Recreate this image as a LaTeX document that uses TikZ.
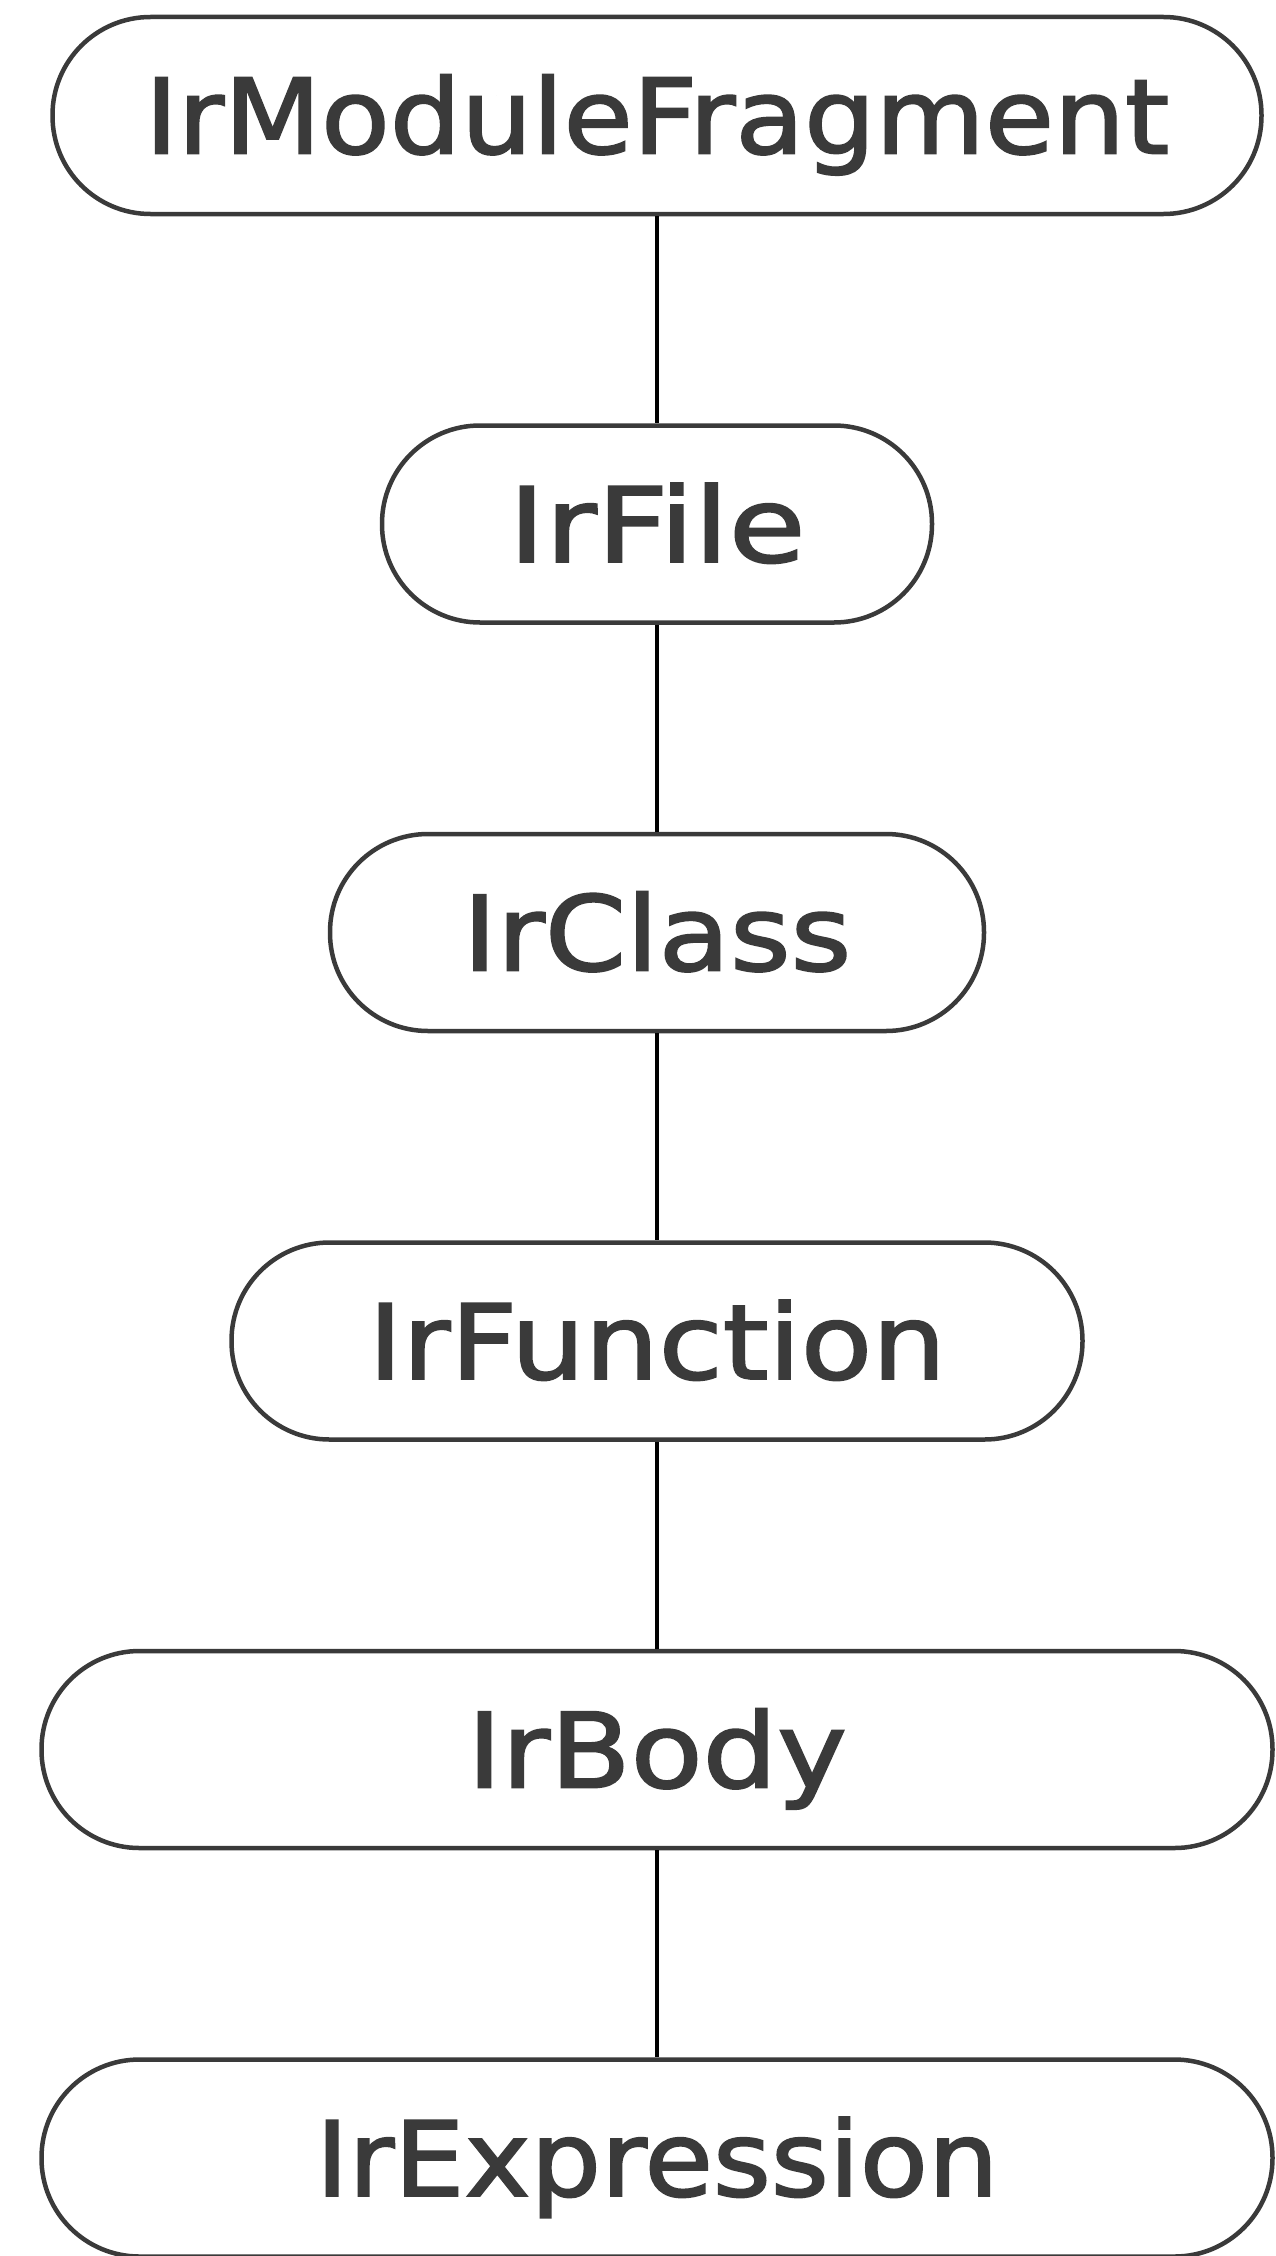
\documentclass[tikz,border=0pt]{standalone}
\usepackage{fontspec}
\setmainfont{DejaVu Sans}[FakeBold=1.8]
\definecolor{ink}{HTML}{3A3A3A}
% label stretched horizontally by #1
\newcommand{\irlabel}[2]{\scalebox{#1}[1]{#2}}
\begin{document}
\begin{tikzpicture}[x=1pt,y=-1pt,
  irnode/.style={draw=ink, line width=4.5pt, rounded corners=98pt, fill=white,
    minimum height=197pt, inner sep=0pt, text=ink,
    font=\fontsize{104}{110}\selectfont, text height=76pt, text depth=0pt},
  link/.style={draw=black, line width=3.5pt}]
\useasboundingbox (0,0) rectangle (1276,2256);
\clip (0,0) rectangle (1276,2256);
% IR tree, one level per row
\node[irnode, minimum width=1209pt] (frag) at (657,115.5) {\irlabel{1.08}{IrModuleFragment}};
\node[irnode, minimum width=550pt]  (file) at (657,524)   {\irlabel{1.20}{IrFile}};
\node[irnode, minimum width=654pt]  (cls)  at (657,932.5) {\irlabel{1.12}{IrClass}};
\node[irnode, minimum width=851pt]  (fun)  at (657,1341)  {\irlabel{1.12}{IrFunction}};
\node[irnode, minimum width=1231pt] (body) at (657,1749.5){\irlabel{1.13}{IrBody}};
\node[irnode, minimum width=1231pt] (expr) at (657,2158)  {\irlabel{1.07}{IrExpression}};
% parent-child links
\draw[link] (frag.south) -- (file.north);
\draw[link] (file.south) -- (cls.north);
\draw[link] (cls.south)  -- (fun.north);
\draw[link] (fun.south)  -- (body.north);
\draw[link] (body.south) -- (expr.north);
\end{tikzpicture}
\end{document}
